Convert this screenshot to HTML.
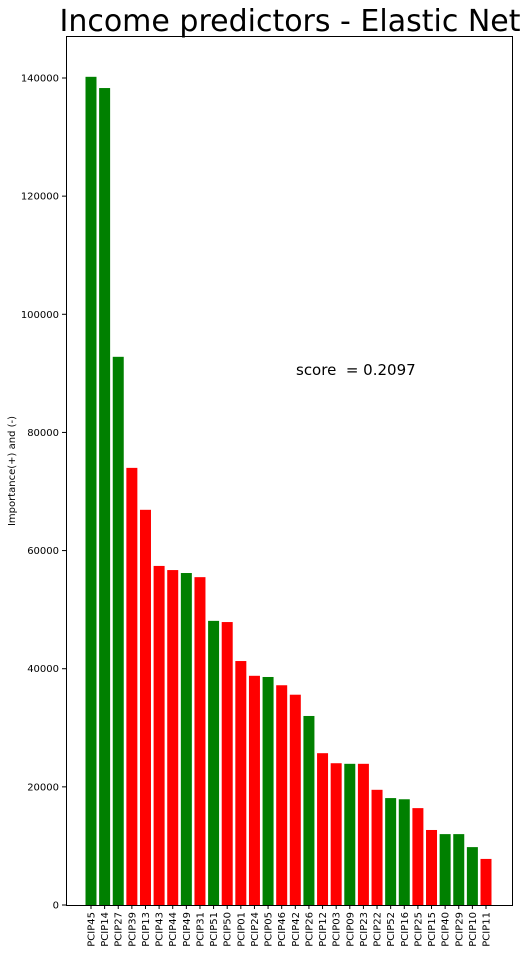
<!DOCTYPE html>
<html><head><meta charset="utf-8"><style>
body{margin:0;background:#fff;}
svg{display:block;font-family:"DejaVu Sans","Liberation Sans",sans-serif;}
</style></head><body>
<svg id="chart" width="527" height="954" xmlns="http://www.w3.org/2000/svg">
<text x="290" y="31" font-size="30" text-anchor="middle">Income predictors - Elastic Net</text>
<text transform="translate(15,471) rotate(-90)" font-size="10" text-anchor="middle">Importance(+) and (-)</text>
<text x="296" y="375" font-size="15">score&#160; = 0.2097</text>
<rect x="66.5" y="36.5" width="446" height="869" fill="none" stroke="#000" stroke-width="1"/>
<g id="bars"></g><g id="yticks"></g><g id="xticks"></g>
</svg>
<script>
const categories=["PCIP45","PCIP14","PCIP27","PCIP39","PCIP13","PCIP43","PCIP44","PCIP49","PCIP31","PCIP51","PCIP50","PCIP01","PCIP24","PCIP05","PCIP46","PCIP42","PCIP26","PCIP12","PCIP03","PCIP09","PCIP23","PCIP22","PCIP52","PCIP16","PCIP25","PCIP15","PCIP40","PCIP29","PCIP10","PCIP11"];
const values=[140200,138300,92800,74000,66900,57400,56700,56200,55500,48100,47900,41300,38800,38600,37200,35600,32000,25700,24000,23900,23900,19500,18100,17900,16400,12700,12000,12000,9800,7800];
const signs=["+","+","+","-","-","-","-","+","-","+","-","-","-","+","-","-","+","-","-","+","-","-","+","+","-","-","+","+","+","-"];
const yTicks=[0,20000,40000,60000,80000,100000,120000,140000];
const ns="http://www.w3.org/2000/svg";
const y=v=>905-v*(905-78)/140000;
const x=i=>91+i*(486-91)/29;
const bw=11;
const gb=document.getElementById('bars'),gy=document.getElementById('yticks'),gx=document.getElementById('xticks');
function mk(tag,attrs){const e=document.createElementNS(ns,tag);for(const k in attrs)e.setAttribute(k,attrs[k]);return e;}
categories.forEach((c,i)=>{
  const r=mk('rect',{x:x(i)-bw/2,y:y(values[i]),width:bw,height:905-y(values[i]),fill:signs[i]==="+"?"#008000":"#ff0000"});
  
  
  gb.appendChild(r);
  const t=mk('line',{x1:x(i),x2:x(i),y1:905,y2:909,stroke:'#000'});
  
  
  gx.appendChild(t);
  const l=mk('text',{transform:`translate(${x(i)+3.5},912) rotate(-90)`,'font-size':'10','text-anchor':'end'});
  
  
  l.textContent=c;gx.appendChild(l);
});
yTicks.forEach(v=>{
  const t=mk('line',{x1:62,x2:66,y1:y(v),y2:y(v),stroke:'#000'});
  
  
  gy.appendChild(t);
  const l=mk('text',{x:59,y:y(v)+3.5,'font-size':'10','text-anchor':'end'});
  
  
  l.textContent=v;gy.appendChild(l);
});
</script>
</body></html>
